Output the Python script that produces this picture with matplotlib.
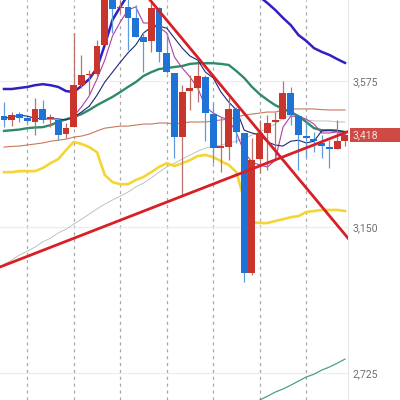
# Daily candles with moving averages, bands and hand drawn trend lines
import matplotlib
matplotlib.use('Agg')
import matplotlib.pyplot as plt
from matplotlib.ticker import FuncFormatter

nan = float('nan')

# === Data ===
opens = [3473, 3462, 3479, 3467, 3456, 3494, 3464, 3462, 3421, 3441, 3563, 3593, 3595, 3680, 3825,
         3788, 3790, 3758, 3703, 3691, 3788, 3657, 3598, 3412, 3546, 3555, 3587, 3479, 3380, 3383,
         3494, 3424, 3016, 3348, 3424, 3456, 3464, 3540, 3473, 3415, 3406, 3395, 3383, 3377, 3400]
highs = [3514, 3485, 3485, 3470, 3526, 3520, 3479, 3467, 3453, 3715, 3651, 3607, 3694, 3830, 3830,
         3811, 3825, 3796, 3718, 3802, 3790, 3715, 3598, 3563, 3593, 3627, 3593, 3511, 3470, 3528,
         3500, 3424, 3409, 3462, 3476, 3485, 3575, 3558, 3473, 3456, 3427, 3418, 3403, 3462, 3424]
lows = [3441, 3444, 3456, 3453, 3418, 3453, 3441, 3403, 3409, 3441, 3555, 3534, 3590, 3680, 3715,
        3773, 3665, 3703, 3601, 3660, 3630, 3598, 3351, 3243, 3491, 3514, 3400, 3336, 3310, 3345,
        3395, 2990, 3010, 3307, 3316, 3345, 3464, 3447, 3316, 3354, 3368, 3351, 3322, 3377, 3386]
closes = [3462, 3476, 3467, 3459, 3494, 3462, 3470, 3418, 3438, 3563, 3593, 3595, 3677, 3825, 3785,
          3790, 3758, 3703, 3689, 3788, 3660, 3601, 3412, 3543, 3555, 3590, 3482, 3380, 3386, 3494,
          3427, 3016, 3345, 3424, 3453, 3462, 3540, 3476, 3418, 3409, 3400, 3386, 3377, 3400, 3418]

band_top = [3552, 3552, 3555, 3558, 3563, 3566, 3563, 3558, 3546, 3543, 3561, 3581, 3613, 3680, 3753,
            3791, 3826, nan, nan, nan, nan, nan, nan, nan, nan, nan, nan, nan, nan, nan,
            nan, nan, nan, 3820, 3802, 3782, 3759, 3738, 3709, 3692, 3671, 3660, 3651, 3639, 3628]
ma_green = [3430, 3432, 3434, 3438, 3440, 3441, 3447, 3456, 3464, 3470, 3479, 3491, 3505, 3517, 3529,
            3543, 3558, 3572, 3590, 3601, 3610, 3613, 3616, 3619, 3625, 3627, 3627, 3627, 3625, 3622,
            3604, 3584, 3558, 3537, 3520, 3505, 3494, 3485, 3473, 3456, 3438, 3432, 3432, 3430, 3427]
ma_orange = [3383, 3385, 3386, 3389, 3392, 3395, 3400, 3403, 3406, 3412, 3415, 3421, 3430, 3438, 3441,
             3444, 3444, 3447, 3450, 3450, 3453, 3453, 3450, 3453, 3456, 3456, 3456, 3459, 3462, 3464,
             3470, 3476, 3479, 3482, 3485, 3485, 3491, 3494, 3494, 3494, 3494, 3492, 3491, 3491, 3491]
ma_yellow = [3310, 3310, 3313, 3313, 3313, 3322, 3336, 3348, 3374, 3398, 3392, 3383, 3368, 3302, 3281,
             3275, 3275, 3287, 3296, 3310, 3325, 3336, 3328, 3336, 3345, 3357, 3360, 3354, 3342, 3331,
             3310, 3229, 3165, 3162, 3162, 3168, 3173, 3179, 3182, 3194, 3197, 3200, 3200, 3200, 3197]
ma_grey = [3042, 3054, 3069, 3080, 3092, 3107, 3118, 3133, 3144, 3159, 3173, 3188, 3203, 3217, 3229,
           3240, 3252, 3267, 3278, 3293, 3310, 3325, 3336, 3348, 3360, 3371, 3380, 3386, 3389, 3395,
           3400, 3409, 3418, 3427, 3438, 3450, 3467, 3476, 3467, 3462, 3459, 3459, 3459, 3456, 3456]
ma_pink = [nan, nan, nan, nan, nan, nan, nan, nan, nan, 3473, 3500, 3532, 3581, 3636, 3706,
           3747, 3782, 3791, 3744, 3744, 3732, 3715, 3645, 3613, 3587, 3555, 3500, 3482, 3470, 3462,
           3424, 3368, 3339, 3331, 3325, 3345, 3441, 3473, 3473, 3464, 3450, 3424, 3424, 3427, 3418]
ma_navy = [3467, 3470, 3476, 3473, 3467, 3465, 3465, 3465, 3462, 3470, 3485, 3502, 3534, 3572, 3601,
           3630, 3657, 3680, 3715, 3732, 3735, 3729, 3700, 3671, 3648, 3636, 3601, 3584, 3543, 3514,
           3491, 3432, 3424, 3418, 3398, 3389, 3386, 3400, 3403, 3395, 3400, 3430, 3432, 3432, 3427]
band_low_x = [33, 34, 35, 36, 37, 38, 39, 40, 41, 42, 43, 44]
band_low = [2647, 2658, 2670, 2679, 2690, 2702, 2714, 2722, 2734, 2743, 2754, 2766]

trend_up_x = [-0.52, 44.26]
trend_up = [3034, 3427]
trend_down_x = [18.84, 44.39]
trend_down = [3811, 3118]

price_ticks = [2725, 3150, 3575]
date_ticks = [3, 9, 15, 21, 27, 33, 39]
last_price = 3418

UP = '#c9352d'
DOWN = '#1f72d6'
UP_WICK = '#b9736c'
DOWN_WICK = '#5f9bd8'

# === Plot ===
fig = plt.figure(figsize=(4, 4), dpi=100)
ax = fig.add_axes([0, 0, 0.87, 1])
ax.set_xlim(-0.516, 44.39)
ax.set_ylim(2647, 3811)

days = list(range(len(opens)))

# Lines sit behind the candles
ax.plot(days, ma_grey, color='#b8b8b8', lw=0.6, zorder=2)
ax.plot(days, ma_orange, color='#c9785c', lw=0.8, zorder=2)
ax.plot(days, ma_yellow, color='#f5d533', lw=1.9, zorder=2)
ax.plot(days, band_top, color='#2f20c4', lw=1.8, zorder=2)
ax.plot(days, ma_green, color='#2f8a68', lw=1.7, zorder=2)
ax.plot(days, ma_pink, color='#ae3fa6', lw=0.8, zorder=2)
ax.plot(days, ma_navy, color='#1d2a78', lw=0.8, zorder=2)
ax.plot(band_low_x, band_low, color='#4aa37e', lw=0.9, zorder=2)

for i, (o, h, l, c) in enumerate(zip(opens, highs, lows, closes)):
    rising = c >= o
    ax.vlines(i, l, h, color=UP_WICK if rising else DOWN_WICK, lw=0.9, zorder=3)
    ax.bar(i, abs(c - o), bottom=min(o, c), width=0.9, color=UP if rising else DOWN, zorder=4)

ax.plot(trend_up_x, trend_up, color='#d91f26', lw=2.0, zorder=5)
ax.plot(trend_down_x, trend_down, color='#d91f26', lw=2.0, zorder=5)

# Axes and grid
for side in ['top', 'left', 'bottom']:
    ax.spines[side].set_visible(False)
ax.spines['right'].set_color('#e6e6e6')
ax.spines['right'].set_linewidth(0.8)

ax.set_xticks(date_ticks)
ax.set_xticklabels([])
ax.set_yticks(price_ticks)
ax.yaxis.tick_right()
ax.yaxis.set_major_formatter(FuncFormatter(lambda v, _: f'{v:,.0f}'))
ax.tick_params(axis='x', length=0)
ax.tick_params(axis='y', length=0, pad=3.5, labelcolor='#707070', labelsize=7.6)
for label in ax.get_yticklabels():
    label.set_family('Roboto')
ax.grid(axis='y', color='#ececec', lw=0.8, zorder=0)
ax.grid(axis='x', color='#a8a8a8', lw=0.9, ls=(0, (2.5, 3)), zorder=1)

# Last price tag
tag = plt.Rectangle((1.006, last_price - 20), 0.15, 40, transform=ax.get_yaxis_transform(),
                    color='#cf4a45', clip_on=False, lw=0, zorder=6)
ax.add_patch(tag)
ax.text(1.012, last_price, f'{last_price:,}', transform=ax.get_yaxis_transform(), color='#f6dfdc',
        fontsize=7.6, family='Roboto', va='center', ha='left', zorder=7)

fig.savefig('out.png', dpi=100)
